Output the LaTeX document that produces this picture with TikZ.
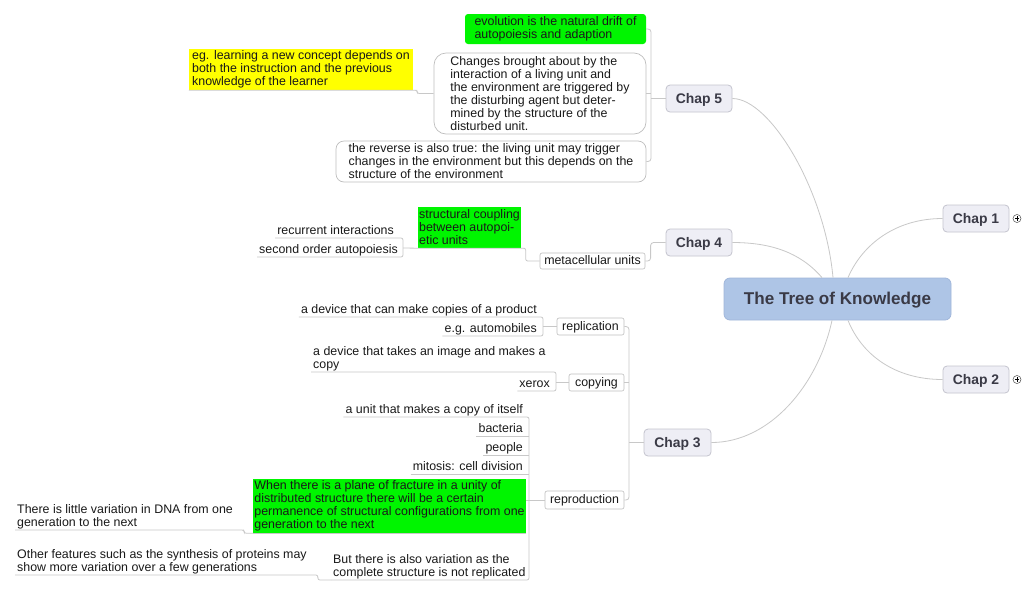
\documentclass[tikz,border=0pt]{standalone}
\usepackage{fontspec}
\setmainfont{Liberation Sans}
\usetikzlibrary{calc}
\definecolor{linegray}{RGB}{200,200,200}
\definecolor{subborder}{RGB}{190,190,190}
\definecolor{chapfill}{RGB}{238,238,245}
\definecolor{chapborder}{RGB}{196,196,206}
\definecolor{titlefill}{RGB}{174,197,230}
\definecolor{titleborder}{RGB}{160,182,218}
\definecolor{titletext}{RGB}{58,58,70}
\definecolor{textc}{RGB}{25,25,25}
\definecolor{lime}{RGB}{0,245,0}
\definecolor{yel}{RGB}{255,255,0}
\newcommand\fs{\fontsize{12.4}{13}\selectfont}
\newcommand\chapfont{\bfseries\fontsize{13.9}{15}\selectfont}
\newcommand\titlefont{\bfseries\fontsize{17.1}{18}\selectfont}
\newcommand\firststrut{\rule{0pt}{12.5pt}}
\begin{document}
\begin{tikzpicture}[x=1pt,y=-1pt,
  conn/.style={draw=linegray, line width=0.8pt},
  txt/.style={font=\fs, inner xsep=2pt, inner ysep=0.4pt, align=left, text=textc},
  txt1/.style={txt, inner ysep=1.2pt, text depth=1.8pt, text height=8.9pt},
  sub/.style={draw=subborder, fill=white, rounded corners=2pt, inner sep=0pt, font=\fs, text=textc, line width=0.6pt, text depth=1.2pt},
  chap/.style={draw=chapborder, fill=chapfill, rounded corners=4pt, minimum width=66pt, minimum height=27pt, font=\chapfont, text=titletext, line width=0.8pt, text depth=0.4pt},
  titlebox/.style={draw=titleborder, fill=titlefill, rounded corners=6pt, minimum width=227pt, minimum height=42pt, font=\titlefont, text=titletext, line width=0.8pt, text depth=0.8pt},
  greenbox/.style={fill=lime, font=\fs, text=textc, align=left, inner ysep=0pt, execute at begin node=\firststrut},
  yellowbox/.style={fill=yel, font=\fs, text=textc, align=left, inner ysep=0pt, execute at begin node=\firststrut},
  roundbox/.style={draw=subborder, fill=white, font=\fs, text=textc, align=left, line width=0.7pt, inner ysep=0pt, execute at begin node=\firststrut},
  expand/.style={circle, draw=black!70, minimum size=8pt, inner sep=0pt, line width=0.5pt}
]
\useasboundingbox[fill=white] (0,0) rectangle (1035,598);

% central + chapters
\node[titlebox] (root) at (837.5,299) {The Tree of Knowledge};
\node[chap] (c1) at (976,218.5) {Chap 1};
\node[chap] (c2) at (976,379.5) {Chap 2};
\node[chap] (c4) at (699,242.5) {Chap 4};
\node[chap] (c5) at (699,98.5) {Chap 5};
\node[chap, minimum width=67pt] (c3) at (677.5,442.5) {Chap 3};

\node[expand] (e1) at (1017,218.5) {};
\draw[line width=0.6pt] ([xshift=-2.2pt]e1.center) -- ([xshift=2.2pt]e1.center) ([yshift=-2.2pt]e1.center) -- ([yshift=2.2pt]e1.center);
\node[expand] (e2) at (1017,379.5) {};
\draw[line width=0.6pt] ([xshift=-2.2pt]e2.center) -- ([xshift=2.2pt]e2.center) ([yshift=-2.2pt]e2.center) -- ([yshift=2.2pt]e2.center);

\draw[conn] ([xshift=10.5pt]root.north) .. controls (862,245) and (895,218.5) .. (c1.west);
\draw[conn] ([xshift=10.5pt]root.south) .. controls (862,355) and (895,379.5) .. (c2.west);
\draw[conn] ([xshift=-15.5pt]root.north) .. controls (800,252) and (770,242.5) .. (c4.east);
\draw[conn] ([xshift=-4.5pt]root.north) .. controls (825,190) and (770,98.5) .. (c5.east);
\draw[conn] ([xshift=-5.5pt]root.south) .. controls (818,385) and (770,442.5) .. (c3.east);

% Chap 5
\node[greenbox, rounded corners=3pt, inner xsep=8pt, minimum width=181pt, minimum height=30pt] (evo) at (555.5,29) {evolution is the natural drift of\\autopoiesis and adaption};
\node[roundbox, rounded corners=12pt, inner xsep=16pt, minimum width=212pt, minimum height=81pt] (chg) at (540,93.5) {Changes brought about by the\\interaction of a living unit and\\the environment are triggered by\\the disturbing agent but deter-\\mined by the structure of the\\disturbed unit.};
\node[roundbox, rounded corners=8pt, inner xsep=10pt, minimum width=310pt, minimum height=41pt] (rev) at (491,161.5) {the reverse is also true: the living unit may trigger\\changes in the environment but this depends on the\\structure of the environment};
\node[yellowbox, inner xsep=1pt, minimum width=224pt, minimum height=41pt] (yl) at (301,69.5) {eg. learning a new concept depends on\\both the instruction and the previous\\knowledge of the learner};
\coordinate (b5) at (651,98.5);
\draw[conn, rounded corners=3pt] (evo.east) -| (b5) |- (rev.east);
\draw[conn] (c5.west) -- (b5);
\draw[conn] (chg.east) -- (chg.east -| b5);
\draw[conn, rounded corners=2pt] (yl.south west) -- ([xshift=4pt]yl.south east) |- (chg.west);

% Chap 4
\node[sub, minimum width=105pt, minimum height=16pt] (meta) at (592.5,261) {metacellular units};
\node[greenbox, inner xsep=1pt, minimum width=101pt, minimum height=41pt] (sc) at (469.5,227.5) {structural coupling\\between autopoi-\\etic units};
\node[txt1, anchor=south east] (ri) at (396,238) {recurrent interactions};
\node[txt1, anchor=south east] (so) at (400,257) {second order autopoiesis};
\coordinate (b4) at (403,248);
\draw[conn, rounded corners=2pt] (ri.south west) -| (b4) |- (so.south west);
\draw[conn] (b4) -- (sc.south west) -- (sc.south east);
\draw[conn, rounded corners=2pt] (meta.west) -- ++(-14,0) |- (sc.south east);
\draw[conn, rounded corners=3pt] (c4.west) -- ++(-15,0) |- (meta.east);

% Chap 3
\node[sub, minimum width=67pt, minimum height=17pt] (repl) at (590.5,326.5) {replication};
\node[sub, minimum width=55pt, minimum height=17pt] (copy) at (596.5,382.5) {copying};
\node[sub, minimum width=79pt, minimum height=18pt] (repro) at (584.5,500) {reproduction};
\coordinate (b3) at (629,442.5);
\draw[conn, rounded corners=3pt] (repl.east) -| (b3) |- (repro.east);
\draw[conn] (c3.west) -- (b3);
\draw[conn] (copy.east) -- (copy.east -| b3);

\node[txt1, anchor=south east] (dev1) at (539,317) {a device that can make copies of a product};
\node[txt1, anchor=south east] (auto) at (539,336) {e.g. automobiles};
\coordinate (b31) at (543,326.5);
\draw[conn, rounded corners=2pt] (dev1.south west) -| (b31) |- (auto.south west);
\draw[conn] (b31) -- (repl.west);

\node[txt, anchor=south west] (dev2) at (311,372) {a device that takes an image and makes a\\copy};
\node[txt1, anchor=south east] (xer) at (552,391) {xerox};
\coordinate (b32) at (556,382.5);
\draw[conn, rounded corners=2pt] (dev2.south west) -| (b32) |- (xer.south west);
\draw[conn] (b32) -- (copy.west);

\node[txt1, anchor=south east] (unit) at (525,417) {a unit that makes a copy of itself};
\node[txt1, anchor=south east] (bact) at (525,436) {bacteria};
\node[txt1, anchor=south east] (peop) at (525,455) {people};
\node[txt1, anchor=south east] (mito) at (525,474) {mitosis: cell division};
\node[greenbox, inner xsep=1pt, minimum width=271pt, minimum height=54pt] (grn) at (389.5,506) {When there is a plane of fracture in a unity of\\distributed structure there will be a certain\\permanence of structural configurations from one\\generation to the next};
\node[txt, anchor=south west] (but) at (331,580) {But there is also variation as the\\complete structure is not replicated};
\coordinate (b33) at (529,500);
\draw[conn, rounded corners=2pt] (unit.south west) -| (b33) |- (but.south west);
\draw[conn] (bact.south west) -- (bact.south west -| b33);
\draw[conn] (peop.south west) -- (peop.south west -| b33);
\draw[conn] (mito.south west) -- (mito.south west -| b33);
\draw[conn] (repro.west) -- (repro.west -| grn.east);
\draw[conn] (grn.south west) -- (grn.south east);

\node[txt, anchor=south west] (dna) at (15,530) {There is little variation in DNA from one\\generation to the next};
\draw[conn, rounded corners=2pt] (dna.south west) -- ([xshift=9pt]dna.south east) |- (grn.south west);
\node[txt, anchor=south west] (oth) at (15,575) {Other features such as the synthesis of proteins may\\show more variation over a few generations};
\draw[conn, rounded corners=2pt] (oth.south west) -- ([xshift=9pt]oth.south east) |- (but.south west);
\end{tikzpicture}
\end{document}
